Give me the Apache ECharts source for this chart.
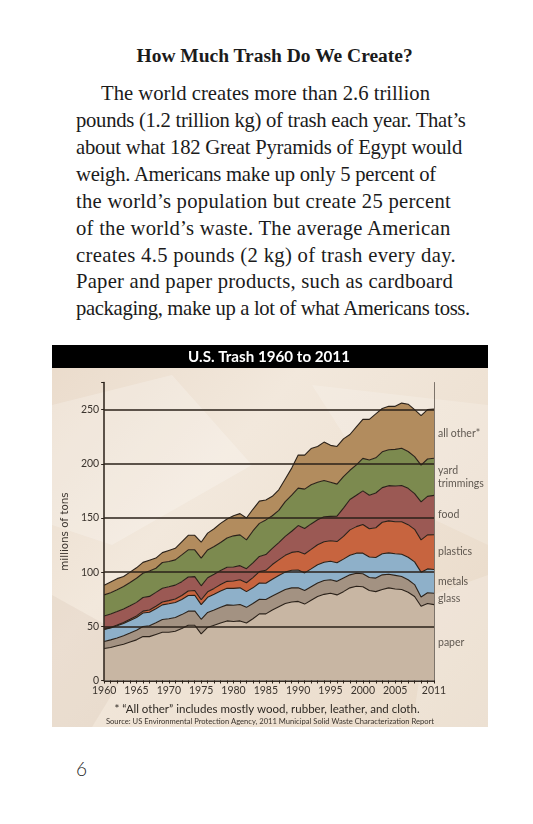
<!DOCTYPE html>
<html><head><meta charset="utf-8">
<script src="https://cdn.jsdelivr.net/npm/echarts@6/dist/echarts.min.js"></script>
<style>
html,body{margin:0;padding:0;background:#fff;width:533px;height:824px;overflow:hidden;}
.t{position:absolute;white-space:nowrap;font-family:"Liberation Serif","Times New Roman",serif;color:#1b1b1b;}
#chart{position:absolute;left:52px;top:345px;width:436px;height:382px;}
#pg{position:absolute;left:76px;top:755px;line-height:28px;font-family:Lato,"Noto Sans",sans-serif;font-size:19px;font-weight:300;color:#222;}
</style></head><body>
<div id="text"></div>
<div id="chart"></div>
<div id="pg">6</div>
<script>
// ---------- data (millions of tons) ----------
const years = ['1960','1961','1962','1963','1964','1965','1966','1967','1968','1969',
  '1970','1971','1972','1973','1974','1975','1976','1977','1978','1979',
  '1980','1981','1982','1983','1984','1985','1986','1987','1988','1989',
  '1990','1991','1992','1993','1994','1995','1996','1997','1998','1999',
  '2000','2001','2002','2003','2004','2005','2006','2007','2008','2009',
  '2010','2011'];
const paper = [29.5,30.5,32,33.5,35.5,37.5,40.5,40.5,42.5,44.5,
  44.5,45.5,48,51,51,43,49,51,53,55,
  54.5,55,53,57,61.5,61.5,65,68,71,72.5,
  73,70.5,74,77.5,79.5,80.5,79,82,85.5,87,
  86.5,83,82,84,85.5,84.5,84,81.5,77.5,68.5,
  71,70];
const glass = [6.5,7,7.3,7.8,8.3,8.9,9.3,10,10.8,11.8,
  12.5,12.7,12.8,13,13.2,13.5,13.8,14,14.5,14.8,
  15,15.2,14.5,14,13.5,13.2,13,13,13,13,
  12.5,12.5,12.5,12.5,12.8,12.5,12.5,12.5,12,12,
  12,12,12.5,13.5,12.5,12.5,12,11.5,11,8.5,
  10,10.5];
const metals = [11,11,11.2,11.3,11.6,11.8,12.5,12.5,13,13.5,
  13.8,13.8,14,14.5,14.5,13.5,14,14.5,15,15.3,
  15.5,15.3,14.5,14.5,15,15,15.5,15.8,16,16.2,
  16.5,16.3,16.5,16.8,16.8,17,17.2,17.5,18,18.5,
  19,19,19,19.5,19.8,20,20.5,20.8,21,23,
  22,22];
const plastics = [0.4,0.5,0.7,0.9,1.1,1.4,1.7,2,2.3,2.6,
  2.9,3.2,3.6,4.1,4.3,4.5,5,5.5,6,6.4,
  6.8,7.5,8.2,9.5,10.5,12,13.5,14.5,15.5,16.5,
  17.1,17.5,18,18.5,19,19,19.5,21,23.5,24.5,
  26.5,26,27.5,29,29.5,29.5,30,30,30,29.8,
  31.4,32];
const food = [12.2,12.3,12.4,12.5,12.5,12.5,12.6,12.6,12.7,12.7,
  12.8,12.8,12.8,12.9,12.9,12.9,13,13,13,13,
  13,13,13,13.5,14,14.5,15,16,17.5,19.5,
  23.9,23.5,23.5,23,23,22.5,23.5,26,28,29,
  31,31,32,32,32.5,33,33.5,33.5,33,35,
  35.5,36.3];
const yard = [19.4,19.7,20.1,20.7,21.5,22.3,22.4,23.4,22.3,23.8,
  23.3,23.3,24.7,25.1,24.7,25.5,25.7,25.6,25.8,27,
  28.7,28.4,26.6,29.5,30.5,32,30,29.7,32,33.3,
  34.5,36.3,36.1,34.7,33.5,31.5,29.5,29.2,27,28,
  30,32.5,32.5,33,33.2,33.8,34.3,34,34.1,34,
  34.5,34.3];
const allOther = [9,10,10.3,9.3,9.5,9.6,10,10,9.4,9.1,
  10.2,10.7,12.1,13.4,13.4,14.7,15.5,16.4,17.7,17.5,
  18.5,19.6,20.2,20,20.5,18.3,18,19,21,25,
  30.5,31.4,33.4,33,35.4,34,34.8,34.8,33,35,
  36,37.5,40.5,40,40,39.7,41.7,43.7,43.4,45.7,
  45.6,45.4];
const seriesNames = ['paper','glass','metals','plastics','food','yard\ntrimmings','all other*'];
const yTicks = [0,50,100,150,200,250];
const xLabelYears = ['1960','1965','1970','1975','1980','1985','1990','1995','2000','2005','2011'];

// ---------- page text ----------
const heading = 'How Much Trash Do We Create?';
const paraLines = [
  'The world creates more than 2.6 trillion',
  'pounds (1.2 trillion kg) of trash each year. That\u2019s',
  'about what 182 Great Pyramids of Egypt would',
  'weigh. Americans make up only 5 percent of',
  'the world\u2019s population but create 25 percent',
  'of the world\u2019s waste. The average American',
  'creates 4.5 pounds (2 kg) of trash every day.',
  'Paper and paper products, such as cardboard',
  'packaging, make up a lot of what Americans toss.'
];
const lineBox = [[101,430],[76,466],[76,462],[76,437],[76,451],[76,452],[76,456],[76,453],[76,471]];
const SERIF = '"Liberation Serif","Times New Roman",serif';
const mctx = document.createElement('canvas').getContext('2d');
function measure(t, font){ mctx.font = font; return mctx.measureText(t).width; }
const holder = document.getElementById('text');
// heading
(function(){
  const w = measure(heading, 'bold 20px ' + SERIF);
  const F = 20 * 277 / w;
  const d = document.createElement('div');
  d.className = 't'; d.textContent = heading;
  d.style.fontWeight = 'bold'; d.style.fontSize = F + 'px'; d.style.lineHeight = (F*1.2) + 'px';
  d.style.left = (275 - 277/2) + 'px';
  d.style.top = (62.5 - 0.9375*F) + 'px';
  holder.appendChild(d);
})();
// paragraph: common font size, per-line letter spacing to match the original line lengths
(function(){
  const ratios = paraLines.map((t,i)=> (lineBox[i][1]-lineBox[i][0]) / measure(t, '20px ' + SERIF)).sort((a,b)=>a-b);
  const F = 20 * ratios[Math.floor(ratios.length/2)];
  paraLines.forEach((t,i)=>{
    const nat = measure(t, F + 'px ' + SERIF);
    const ls = ((lineBox[i][1]-lineBox[i][0]) - nat) / (t.length);
    const d = document.createElement('div');
    d.className = 't'; d.textContent = t;
    d.style.fontSize = F + 'px'; d.style.lineHeight = (F*1.2) + 'px';
    d.style.letterSpacing = ls + 'px';
    d.style.left = lineBox[i][0] + 'px';
    d.style.top = (100.5 + 26.9*i - 0.9375*F) + 'px';
    holder.appendChild(d);
  });
})();

// ---------- chart ----------
const SANS = 'Lato, "Noto Sans", sans-serif';
const colors = ['#c8b6a3','#a39282','#8eb0c9','#c7643f','#9b5954','#7c8a4f','#b28c5e'];
const edge = '#2a2119';
const seriesData = [paper, glass, metals, plastics, food, yard, allOther];
const series = [];
seriesData.forEach((d,i)=>{
  series.push({type:'line', name:seriesNames[i], stack:'area', data:d, symbol:'none',
    lineStyle:{opacity:0, width:0}, areaStyle:{color:colors[i], opacity:1}, z:2, silent:true});
});
seriesData.forEach((d,i)=>{
  series.push({type:'line', stack:'edges', data:d, symbol:'none',
    lineStyle:{color:edge, width:1.1}, z:3, silent:true});
});
const last = years.length - 1;
let cum = 0;
const labelPts = seriesData.map((d,i)=>{
  const v = d[last]; const p = {name:seriesNames[i], value:[years[last], cum + v/2]}; cum += v; return p;
});
series.push({type:'scatter', data:labelPts, symbolSize:0, silent:true, z:4,
  label:{show:true, position:'right', distance:4, formatter:p=>p.name, color:'#3a332d',
    fontSize:10.5, lineHeight:13, fontFamily:SANS}});

const chart = echarts.init(document.getElementById('chart'));
const titleText = 'U.S. Trash 1960 to 2011';
const tw = measure(titleText, 'bold 16px ' + SANS);
const titleSize = 16 * 162 / tw;

chart.setOption({
  animation:false,
  grid:{left:36, right:54, top:37.5, bottom:46.5},
  graphic:[
    {type:'rect', z:-10, shape:{x:0,y:0,width:436,height:382},
      style:{fill:new echarts.graphic.LinearGradient(0,0,1,1,[
        {offset:0,color:'#eadbcb'},{offset:0.35,color:'#f2e8dc'},{offset:0.7,color:'#ede0d1'},{offset:1,color:'#e8d9c7'}])}},
    {type:'polygon', z:-9, shape:{points:[[0,60],[120,30],[200,120],[60,200],[0,180]]}, style:{fill:'rgba(255,255,255,0.22)'}},
    {type:'polygon', z:-9, shape:{points:[[260,40],[436,60],[436,200],[330,150]]}, style:{fill:'rgba(255,255,255,0.18)'}},
    {type:'polygon', z:-9, shape:{points:[[0,250],[90,300],[40,382],[0,382]]}, style:{fill:'rgba(150,120,90,0.08)'}},
    {type:'polygon', z:-9, shape:{points:[[380,250],[436,230],[436,382],[360,382]]}, style:{fill:'rgba(255,255,255,0.2)'}},
    {type:'rect', z:10, shape:{x:0,y:0,width:436,height:23}, style:{fill:'#000'}},
    {type:'text', z:11, x:217, y:12, style:{text:titleText, fill:'#fff', font:'bold '+titleSize+'px '+SANS, textAlign:'center', textVerticalAlign:'middle'}},
    {type:'text', z:11, x:215, y:364, style:{text:'* \u201cAll other\u201d includes mostly wood, rubber, leather, and cloth.', fill:'#2e2924', font:'11.5px '+SANS, textAlign:'center', textVerticalAlign:'middle'}},
    {type:'text', z:11, x:218, y:377, style:{text:'Source: US Environmental Protection Agency, 2011 Municipal Solid Waste Characterization Report', fill:'#3a342e', font:'7.6px '+SANS, textAlign:'center', textVerticalAlign:'middle'}}
  ],
  xAxis:[{type:'category', data:years, boundaryGap:false, z:6,
    axisLine:{show:true, lineStyle:{color:edge, width:1.5}},
    axisTick:{show:true, interval:0, length:3, lineStyle:{color:edge, width:1}},
    axisLabel:{interval:(i,v)=>xLabelYears.indexOf(v)>=0, margin:5, color:'#3a332d', fontSize:10.5, fontFamily:SANS},
    splitLine:{show:false}},
   {type:'category', data:years, boundaryGap:false, position:'top', z:6,
    axisLine:{show:true, lineStyle:{color:'#7c736a', width:1}}, axisTick:{show:false}, axisLabel:{show:false}, splitLine:{show:false}}],
  yAxis:[{type:'value', min:0, max:275, interval:50, z:6,
    axisLine:{show:true, lineStyle:{color:edge, width:1.5}},
    axisTick:{show:true, length:3, lineStyle:{color:edge}},
    axisLabel:{formatter:v=> yTicks.indexOf(v)>=0 ? String(v) : '', margin:5, color:'#3a332d', fontSize:10.5, fontFamily:SANS},
    splitLine:{show:true, lineStyle:{color:[edge,edge,edge,edge,edge,edge,'rgba(0,0,0,0)'], width:1.5}},
    name:'millions of tons', nameLocation:'middle', nameGap:25, nameRotate:90,
    nameTextStyle:{color:'#3a332d', fontSize:10.3, fontFamily:'"DejaVu Sans", sans-serif'}},
   {type:'value', min:0, max:275, interval:50, position:'right', z:6,
    axisLine:{show:true, lineStyle:{color:'#7c736a', width:1}}, axisTick:{show:false}, axisLabel:{show:false}, splitLine:{show:false}}],
  series:series
});
</script>
</body></html>
